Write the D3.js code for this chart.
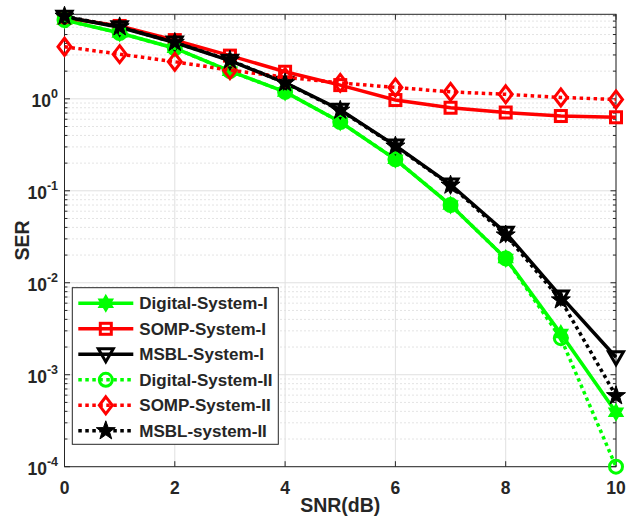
<!DOCTYPE html>
<html>
<head>
<meta charset="utf-8">
<script src="https://cdn.jsdelivr.net/npm/d3@7"></script>
<style>
  body { margin: 0; background: #fff; }
  text { font-family: "Liberation Sans", Arial, sans-serif; font-weight: bold; fill: #262626; }
</style>
</head>
<body>
<div id="chart"></div>
<script>
// SNR values (dB)
let snr = [0, 1, 2, 3, 4, 5, 6, 7, 8, 9, 10];

// SER per method
let digitalSys1 = [7.2, 5.2, 3.55, 2.0, 1.19, 0.56, 0.22, 0.070, 0.0184, 0.0028, 0.00039];
let sompSys1    = [7.6, 6.2, 4.35, 2.95, 1.97, 1.41, 0.97, 0.80, 0.71, 0.65, 0.63];
let msblSys1    = [7.8, 6.0, 4.1, 2.6, 1.5, 0.76, 0.31, 0.117, 0.035, 0.0071, 0.00155];
let digitalSys2 = [7.2, 5.2, 3.55, 2.0, 1.19, 0.56, 0.22, 0.070, 0.0184, 0.0025, 0.0001];
let sompSys2    = [3.68, 3.06, 2.53, 2.05, 1.72, 1.49, 1.33, 1.19, 1.12, 1.035, 0.985];
let msblSys2    = [7.9, 6.06, 4.1, 2.63, 1.49, 0.75, 0.306, 0.115, 0.033, 0.0065, 0.00059];

let seriesNames = ["Digital-System-I", "SOMP-System-I", "MSBL-System-I",
                   "Digital-System-II", "SOMP-System-II", "MSBL-system-II"];

let xTicks = [0, 2, 4, 6, 8, 10];
let yTicks = [-4, -3, -2, -1, 0]; // exponents

let series = [
    {name: seriesNames[0], values: digitalSys1, color: "#00ff00", dash: null, marker: "hexagram"},
    {name: seriesNames[1], values: sompSys1, color: "#ff0000", dash: null, marker: "square"},
    {name: seriesNames[2], values: msblSys1, color: "#000000", dash: null, marker: "triangle"},
    {name: seriesNames[3], values: digitalSys2, color: "#00ff00", dash: "3.5,3.5", marker: "circle"},
    {name: seriesNames[4], values: sompSys2, color: "#ff0000", dash: "3.5,3.5", marker: "diamond"},
    {name: seriesNames[5], values: msblSys2, color: "#000000", dash: "3.5,3.5", marker: "pentagram"}
];

let svgWidth = 637, svgHeight = 519;
let margin = {top: 14.3, right: 21, bottom: 52.3, left: 64.5};
let width = svgWidth - margin.left - margin.right;
let height = svgHeight - margin.top - margin.bottom;

let svg = d3.select("#chart").append("svg")
    .attr("width", svgWidth)
    .attr("height", svgHeight);

let g = svg.append("g")
    .attr("transform", `translate(${margin.left}, ${margin.top})`);

let x = d3.scaleLinear().domain([0, 10]).range([0, width]);
let y = d3.scaleLog().domain([1e-4, 8.3]).range([height, 0]);

// minor grid (dotted)
let minorVals = [];
for (let e = -4; e <= 0; e++) {
    for (let m = 2; m <= 9; m++) {
        let v = m * Math.pow(10, e);
        if (v <= 8.3) minorVals.push(v);
    }
}
g.selectAll(".minorGrid").data(minorVals).join("line")
    .attr("x1", 0).attr("x2", width)
    .attr("y1", d => y(d)).attr("y2", d => y(d))
    .attr("stroke", "#c8c8c8").attr("stroke-width", 1)
    .attr("stroke-dasharray", "1,3");

// major grid
g.selectAll(".xGrid").data(xTicks).join("line")
    .attr("x1", d => x(d)).attr("x2", d => x(d))
    .attr("y1", 0).attr("y2", height)
    .attr("stroke", "#e0e0e0").attr("stroke-width", 1);
g.selectAll(".yGrid").data(yTicks).join("line")
    .attr("x1", 0).attr("x2", width)
    .attr("y1", d => y(Math.pow(10, d))).attr("y2", d => y(Math.pow(10, d)))
    .attr("stroke", "#e0e0e0").attr("stroke-width", 1);

// axes box + ticks
let axisColor = "#262626";
g.append("rect").attr("width", width).attr("height", height)
    .attr("fill", "none").attr("stroke", axisColor).attr("stroke-width", 1);

g.selectAll(".xTick").data(xTicks).join("g").each(function(d) {
    let t = d3.select(this);
    t.append("line").attr("x1", x(d)).attr("x2", x(d)).attr("y1", height).attr("y2", height - 5.5).attr("stroke", axisColor);
    t.append("line").attr("x1", x(d)).attr("x2", x(d)).attr("y1", 0).attr("y2", 5.5).attr("stroke", axisColor);
    t.append("text").attr("x", x(d)).attr("y", height + 27.5)
        .attr("text-anchor", "middle").attr("font-size", 17.5).text(d);
});

g.selectAll(".yTick").data(yTicks).join("g").each(function(d) {
    let t = d3.select(this);
    let yy = y(Math.pow(10, d));
    t.append("line").attr("x1", 0).attr("x2", 5.5).attr("y1", yy).attr("y2", yy).attr("stroke", axisColor);
    t.append("line").attr("x1", width).attr("x2", width - 5.5).attr("y1", yy).attr("y2", yy).attr("stroke", axisColor);
    let txt = t.append("text").attr("x", -6.5).attr("y", yy + 8.5)
        .attr("text-anchor", "end").attr("font-size", 17.5);
    txt.append("tspan").text("10");
    txt.append("tspan").attr("font-size", 12.5).attr("dy", -9).text(d);
});

g.selectAll(".yMinorTick").data(minorVals).join("g").each(function(d) {
    let t = d3.select(this);
    t.append("line").attr("x1", 0).attr("x2", 3).attr("y1", y(d)).attr("y2", y(d)).attr("stroke", axisColor);
    t.append("line").attr("x1", width).attr("x2", width - 3).attr("y1", y(d)).attr("y2", y(d)).attr("stroke", axisColor);
});

// markers
function starPath(n, rOut, rIn) {
    let pts = [];
    for (let i = 0; i < 2 * n; i++) {
        let r = i % 2 === 0 ? rOut : rIn;
        let a = -Math.PI / 2 + i * Math.PI / n;
        pts.push([r * Math.cos(a), r * Math.sin(a)]);
    }
    return "M" + pts.map(p => p.join(",")).join("L") + "Z";
}
function drawMarker(sel, type, color) {
    if (type === "hexagram") {
        sel.append("path").attr("d", starPath(6, 8, 4.6)).attr("fill", color).attr("stroke", color).attr("stroke-width", 1.5);
    } else if (type === "square") {
        sel.append("rect").attr("x", -5.5).attr("y", -5.5).attr("width", 11).attr("height", 11)
            .attr("fill", "none").attr("stroke", color).attr("stroke-width", 3);
    } else if (type === "triangle") {
        sel.append("path").attr("d", "M-7.5,-5.5L7.5,-5.5L0,7.5Z")
            .attr("fill", "none").attr("stroke", color).attr("stroke-width", 3);
    } else if (type === "circle") {
        sel.append("circle").attr("r", 6.5).attr("fill", "none").attr("stroke", color).attr("stroke-width", 3);
    } else if (type === "diamond") {
        sel.append("path").attr("d", "M0,-8.5L6.5,0L0,8.5L-6.5,0Z")
            .attr("fill", "none").attr("stroke", color).attr("stroke-width", 3);
    } else if (type === "pentagram") {
        sel.append("path").attr("d", starPath(5, 10, 4)).attr("fill", color).attr("stroke", color).attr("stroke-width", 1);
    }
}

let line = d3.line()
    .x((d, i) => x(snr[i]))
    .y(d => y(d));

series.forEach(s => {
    let sg = g.append("g");
    sg.append("path").datum(s.values)
        .attr("d", line)
        .attr("fill", "none")
        .attr("stroke", s.color)
        .attr("stroke-width", 3.5)
        .attr("stroke-dasharray", s.dash);
    sg.selectAll(".pt").data(s.values).join("g")
        .attr("transform", (d, i) => `translate(${x(snr[i])}, ${y(d)})`)
        .each(function() { drawMarker(d3.select(this), s.marker, s.color); });
});

// legend
let legend = svg.append("g").attr("transform", "translate(72.3, 287.7)");
legend.append("rect").attr("width", 206).attr("height", 156.6)
    .attr("fill", "#fff").attr("stroke", axisColor).attr("stroke-width", 1);
series.forEach((s, i) => {
    let ly = 15.6 + i * 25.5;
    let lg = legend.append("g").attr("transform", `translate(0, ${ly})`);
    lg.append("line").attr("x1", 6).attr("x2", 61).attr("y1", 0).attr("y2", 0)
        .attr("stroke", s.color).attr("stroke-width", 3.5).attr("stroke-dasharray", s.dash);
    let mg = lg.append("g").attr("transform", "translate(33.5, 0)");
    drawMarker(mg, s.marker, s.color);
    lg.append("text").attr("x", 67).attr("y", 6).attr("font-size", 17).attr("fill", "#000").text(s.name);
});

// axis labels
svg.append("text")
    .attr("x", margin.left + width / 2).attr("y", 512)
    .attr("text-anchor", "middle").attr("font-size", 19.5)
    .text("SNR(dB)");
svg.append("text")
    .attr("transform", `translate(29, ${margin.top + height / 2}) rotate(-90)`)
    .attr("text-anchor", "middle").attr("font-size", 19.5)
    .text("SER");
</script>
</body>
</html>
